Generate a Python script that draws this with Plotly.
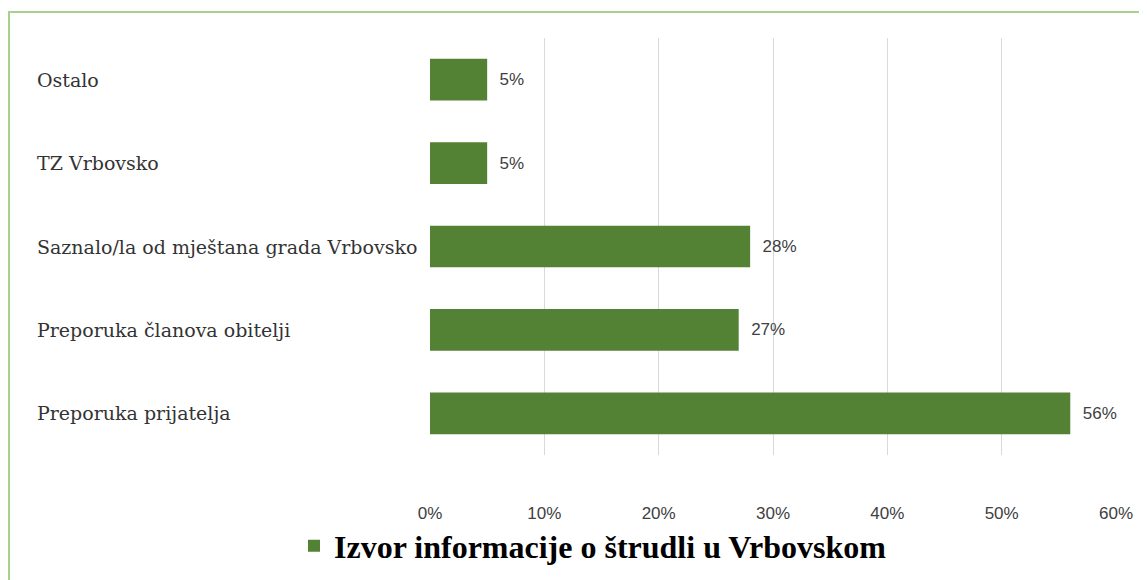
import plotly.graph_objects as go

categories = ["Preporuka prijatelja", "Preporuka članova obitelji",
              "Saznalo/la od mještana grada Vrbovsko", "TZ Vrbovsko", "Ostalo"]
values = [0.56, 0.27, 0.28, 0.05, 0.05]
value_labels = ["56%", "27%", "28%", "5%", "5%"]
x_ticks = [0, 0.1, 0.2, 0.3, 0.4, 0.5, 0.6]
x_tick_labels = ["0%", "10%", "20%", "30%", "40%", "50%", "60%"]
series_name = "Izvor informacije o štrudli u Vrbovskom"

GREEN = "#548235"
# figure coordinates (page is offset by the 8px body margin)
W, H = 1139, 572
L, R, T, B = 422, 31, 30, 125
pw, ph = W - L - R, H - T - B

fig = go.Figure()
fig.add_trace(go.Bar(
    y=categories, x=values, orientation="h", name=series_name,
    marker=dict(color=GREEN, line=dict(width=0)),
    text=value_labels, texttemplate="  %{text}", textposition="outside", cliponaxis=False,
    textfont=dict(family="Liberation Sans, Arial, sans-serif", size=17, color="#404040"),
    showlegend=True,
))

for c in categories:
    fig.add_annotation(x=(27 - L) / pw, xref="paper", y=c, yref="y", text=c,
                       showarrow=False, xanchor="left",
                       font=dict(family="DejaVu Serif, serif", size=19, color="#333333"))

fig.add_shape(type="rect", xref="paper", yref="paper",
              x0=(1 - L) / pw, x1=(1200 - L) / pw,
              y0=(T + ph - 700) / ph, y1=(T + ph - 4) / ph,
              line=dict(color="#a9d18e", width=2), fillcolor="rgba(0,0,0,0)", layer="below")

fig.update_layout(
    width=W, height=H,
    margin=dict(l=L, r=R, t=T, b=B, autoexpand=False),
    paper_bgcolor="white", plot_bgcolor="white",
    bargap=0.5,
    xaxis=dict(range=[0, 0.6], tickvals=x_ticks, ticktext=x_tick_labels,
               showgrid=True, gridcolor="#d9d9d9", gridwidth=1, zeroline=False,
               showline=False, ticks="", ticklabelstandoff=46, automargin=False,
               tickfont=dict(family="Liberation Sans, Arial, sans-serif", size=17, color="#404040")),
    yaxis=dict(showticklabels=False, showgrid=False, zeroline=False, showline=False,
               automargin=False,
               categoryorder="array", categoryarray=categories),
    legend=dict(orientation="h", x=(286 - L) / pw, xanchor="left",
                y=(T + ph - 538) / ph, yanchor="middle",
                bgcolor="rgba(0,0,0,0)",
                font=dict(family="Liberation Serif, Times New Roman, serif", size=32, color="#000000",
                          weight="bold"),
                itemwidth=30),
    showlegend=True,
)

fig.write_html("out.html")
